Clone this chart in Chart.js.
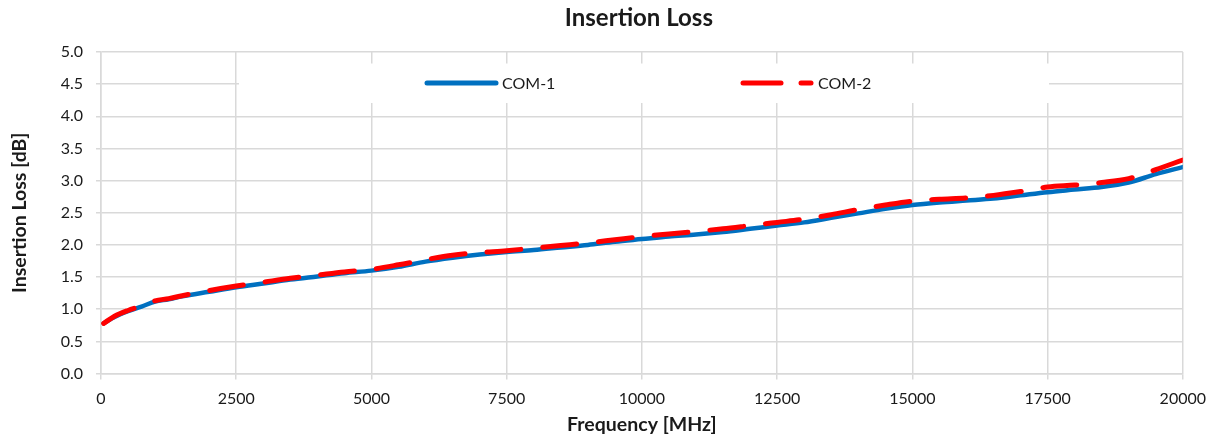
<!DOCTYPE html>
<html>
<head>
<meta charset="utf-8">
<script src="https://cdn.jsdelivr.net/npm/chart.js@4.4.1/dist/chart.umd.min.js"></script>
<style>
  html, body { margin: 0; padding: 0; background: #fff; }
  #wrap { width: 1216px; height: 440px; }
</style>
</head>
<body>
<div id="wrap"><canvas id="chart" width="1216" height="440"></canvas></div>
<script>
// Frequency points in MHz
const freq = [50, 250, 500, 750, 1000, 1250, 1500, 2000, 2500, 3000, 3500, 4000, 4500, 5000,
              5500, 6000, 6500, 7000, 7500, 8000, 8500, 9000, 9500, 10000,
              10500, 11000, 11500, 12000, 12500, 13000, 13500, 14000, 14500, 15000,
              15500, 16000, 16500, 17000, 17500, 18000, 18500, 19000, 19500, 20000];

// Insertion loss in dB
const com1 = [0.78, 0.88, 0.97, 1.04, 1.12, 1.155, 1.20, 1.27, 1.34, 1.40, 1.46, 1.51, 1.56, 1.60,
              1.66, 1.74, 1.80, 1.85, 1.89, 1.92, 1.96, 2.00, 2.05, 2.09,
              2.13, 2.16, 2.20, 2.25, 2.30, 2.35, 2.42, 2.49, 2.56, 2.62,
              2.66, 2.69, 2.72, 2.77, 2.82, 2.86, 2.90, 2.97, 3.10, 3.21];

const com2 = [0.78, 0.89, 0.98, 1.05, 1.13, 1.165, 1.21, 1.29, 1.36, 1.42, 1.48, 1.53, 1.58, 1.62,
              1.69, 1.77, 1.84, 1.88, 1.91, 1.95, 1.99, 2.03, 2.08, 2.13,
              2.17, 2.21, 2.25, 2.30, 2.35, 2.40, 2.47, 2.55, 2.62, 2.68,
              2.71, 2.73, 2.77, 2.83, 2.90, 2.93, 2.97, 3.03, 3.17, 3.32];

const seriesNames = ['COM-1', 'COM-2'];
const chartTitle  = 'Insertion Loss';
const xTitle      = 'Frequency [MHz]';
const yTitle      = 'Insertion Loss [dB]';

const FONT    = 'Lato, "Noto Sans", sans-serif';
const TEXT    = '#1a1a1a';
const GRID    = '#d9d9d9';
const BLUE    = '#0070c0';
const RED     = '#ff0000';
const RED_DASH = [34, 22];

const toPoints = arr => arr.map((v, i) => ({ x: freq[i], y: v }));

// title over plot area + white legend box inside the plot
const overlay = {
    id: 'overlay',
    beforeDatasetsDraw(chart) {
        const { ctx } = chart;
        ctx.save();
        ctx.fillStyle = '#fff';
        ctx.fillRect(239, 63.5, 1049 - 239, 103 - 63.5);

        const ly = 83;
        ctx.lineCap = 'round';
        ctx.lineWidth = 5;
        ctx.strokeStyle = BLUE;
        ctx.beginPath(); ctx.moveTo(427, ly); ctx.lineTo(496, ly); ctx.stroke();

        ctx.strokeStyle = RED;
        ctx.beginPath(); ctx.moveTo(743, ly); ctx.lineTo(781, ly); ctx.stroke();
        ctx.beginPath(); ctx.moveTo(801, ly); ctx.lineTo(811, ly); ctx.stroke();

        ctx.fillStyle = TEXT;
        ctx.font = '16px ' + FONT;
        ctx.textBaseline = 'middle';
        ctx.textAlign = 'left';
        ctx.fillText(seriesNames[0], 502, ly + 1);
        ctx.fillText(seriesNames[1], 818, ly + 1);
        ctx.restore();
    },
    afterDraw(chart) {
        const { ctx, chartArea } = chart;
        ctx.save();
        ctx.fillStyle = TEXT;
        ctx.font = 'bold 24px ' + FONT;
        ctx.textAlign = 'center';
        ctx.textBaseline = 'middle';
        ctx.fillText(chartTitle, (chartArea.left + chartArea.right) / 2 - 3, 18);
        ctx.restore();
    }
};

new Chart(document.getElementById('chart'), {
    type: 'line',
    data: {
        datasets: [
            {
                label:           seriesNames[0],
                data:            toPoints(com1),
                borderColor:     BLUE,
                backgroundColor: BLUE,
                borderWidth:     4.5,
                borderCapStyle:  'round',
                pointRadius:     0,
                cubicInterpolationMode: 'monotone',
                order: 1,
            },
            {
                label:           seriesNames[1],
                data:            toPoints(com2),
                borderColor:     RED,
                backgroundColor: RED,
                borderWidth:     5,
                borderDash:      RED_DASH,
                borderCapStyle:  'round',
                pointRadius:     0,
                cubicInterpolationMode: 'monotone',
                order: 0,
            },
        ],
    },
    options: {
        responsive: false,
        animation: false,
        devicePixelRatio: 1,
        layout: { padding: { top: 52, right: 30, left: 0, bottom: 0 } },
        plugins: {
            legend:  { display: false },
            title:   { display: false },
            tooltip: { enabled: false },
        },
        scales: {
            x: {
                type: 'linear',
                min: 0,
                max: 20000,
                afterFit: s => { s.height = 66.5; },
                ticks: { stepSize: 2500, color: TEXT, font: { family: FONT, size: 16 }, padding: 10,
                         maxRotation: 0, callback: v => String(v) },
                grid:  { color: GRID, lineWidth: 1.5, tickLength: 6 },
                border: { color: GRID, width: 1.5 },
                title: { display: true, text: xTitle, color: TEXT,
                         font: { family: FONT, size: 19.5, weight: 'bold' }, padding: { bottom: 4, top: 0 } },
            },
            y: {
                min: 0,
                max: 5,
                afterFit: s => { s.width = 101; },
                ticks: { stepSize: 0.5, color: TEXT, font: { family: FONT, size: 16 }, padding: 13,
                         callback: v => v.toFixed(1) },
                grid:  { color: GRID, lineWidth: 1.5, tickLength: 5 },
                border: { color: GRID, width: 1.5 },
                title: { display: true, text: yTitle, color: TEXT,
                         font: { family: FONT, size: 19.5, weight: 'bold' }, padding: { top: 8.3, bottom: 0 } },
            },
        },
    },
    plugins: [overlay],
});
</script>
</body>
</html>
